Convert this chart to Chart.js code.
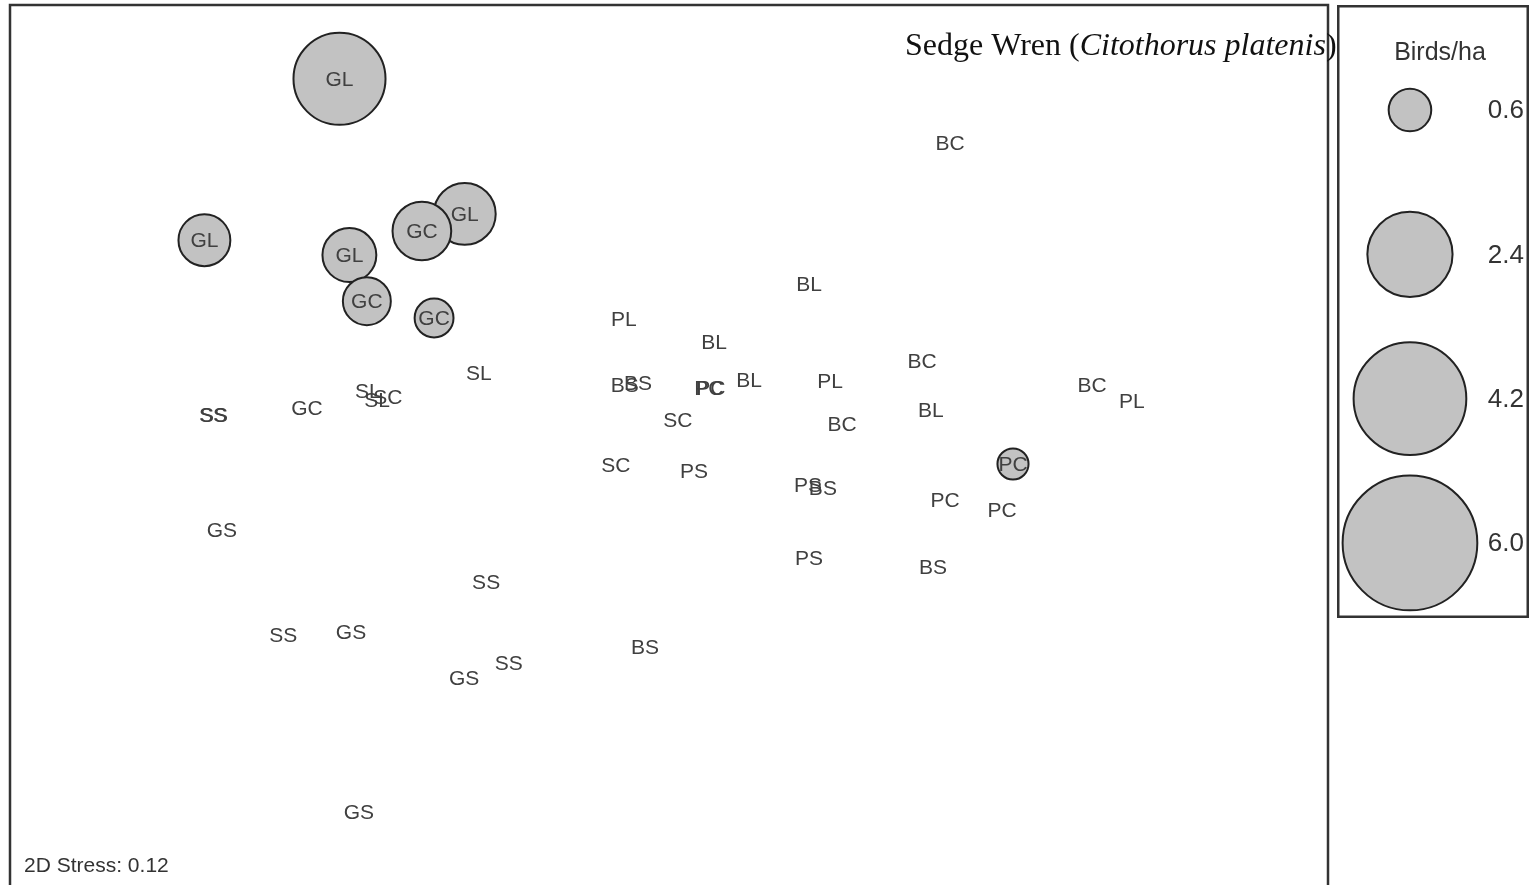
<!DOCTYPE html>
<html>
<head>
<meta charset="utf-8">
<title>Sedge Wren MDS bubble plot</title>
<script src="https://cdn.jsdelivr.net/npm/chart.js@4.4.1/dist/chart.umd.min.js"></script>
<style>
  html, body { margin: 0; padding: 0; background: #fff; }
  #wrap { position: relative; width: 1531px; height: 885px; overflow: hidden; }
  #plot { position: absolute; left: 0; top: 0; }
  #legend { position: absolute; left: 1337px; top: 5px; }
</style>
</head>
<body>
<div id="wrap">
  <canvas id="plot" width="1531" height="885"></canvas>
  <canvas id="legend" width="192" height="613"></canvas>
</div>
<script>
// --- data (MDS coordinates, density in birds/ha) ---
const siteLabels = [
  'GL', 'GL', 'GL', 'GL', 'GC', 'GC', 'GC', 'PC',
  'BC', 'BL', 'PL', 'BL', 'SL', 'BC', 'PL', 'BL', 'PC', 'PC',
  'BS', 'BS', 'SC', 'BC', 'BL', 'BC', 'PL', 'SS', 'SS', 'GC',
  'SL', 'SL', 'SC', 'SC', 'PS', 'PS', 'BS', 'PC', 'PC', 'GS',
  'SS', 'PS', 'BS', 'SS', 'GS', 'BS', 'SS', 'GS', 'GS'
];
const mdsX = [
  -1.00, -1.41, -0.62, -0.97, -0.75, -0.917, -0.713, 1.044,
  0.853, 0.425, -0.137, 0.137, -0.577, 0.768, 0.489, 0.243, 0.121, 0.127,
  -0.134, -0.094, 0.027, 0.525, 0.795, 1.284, 1.405, -1.384, -1.381, -1.099,
  -0.914, -0.886, -0.853, -0.161, 0.076, 0.422, 0.467, 0.838, 1.011, -1.357,
  -0.555, 0.425, 0.801, -1.171, -0.965, -0.073, -0.486, -0.622, -0.941
];
const mdsY = [
  1.11, 0.62, 0.70, 0.575, 0.648, 0.435, 0.384, -0.059,
  0.915, 0.487, 0.381, 0.311, 0.217, 0.253, 0.193, 0.196, 0.171, 0.171,
  0.181, 0.187, 0.074, 0.062, 0.105, 0.181, 0.132, 0.090, 0.090, 0.111,
  0.162, 0.135, 0.144, -0.062, -0.080, -0.123, -0.132, -0.168, -0.199, -0.259,
  -0.417, -0.344, -0.372, -0.578, -0.569, -0.615, -0.663, -0.709, -1.115
];
const density = [
  2.80, 0.89, 1.27, 0.96, 1.14, 0.76, 0.50, 0.32,
  0, 0, 0, 0, 0, 0, 0, 0, 0, 0,
  0, 0, 0, 0, 0, 0, 0, 0, 0, 0,
  0, 0, 0, 0, 0, 0, 0, 0, 0, 0,
  0, 0, 0, 0, 0, 0, 0, 0, 0
];
const legendValues = [0.6, 2.4, 4.2, 6.0];
const stressText = '2D Stress: 0.12';

// bubble radius proportional to sqrt(density), same scale for plot and key
const radiusFor = v => (v > 0 ? 27.5 * Math.sqrt(v) : 0);

const BUBBLE_FILL = '#c2c2c2';
const BUBBLE_EDGE = '#222';
const TEXT_GREY = '#404040';
const SANS = '"Liberation Sans", Arial, sans-serif';
const SERIF = '"Liberation Serif", "Times New Roman", serif';

const plotPoints = siteLabels.map((lab, i) => ({ x: mdsX[i], y: mdsY[i], r: radiusFor(density[i]) }));

// labels, frame, stress and title for the main plot
const plotDecor = {
  id: 'plotDecor',
  afterDatasetsDraw(chart) {
    const { ctx, chartArea: a, scales } = chart;
    ctx.save();
    ctx.font = '21px ' + SANS;
    ctx.fillStyle = TEXT_GREY;
    ctx.textAlign = 'center';
    ctx.textBaseline = 'middle';
    siteLabels.forEach((lab, i) => {
      ctx.fillText(lab, scales.x.getPixelForValue(mdsX[i]), scales.y.getPixelForValue(mdsY[i]) + 1);
    });

    // frame
    ctx.strokeStyle = '#333';
    ctx.lineWidth = 2.5;
    ctx.strokeRect(a.left, a.top, a.right - a.left, a.bottom - a.top + 4);

    ctx.textAlign = 'left';
    ctx.font = '21px ' + SANS;
    ctx.fillStyle = '#333';
    ctx.fillText(stressText, 24, 866);

    // title: common name roman, scientific name italic
    ctx.fillStyle = '#111';
    ctx.textBaseline = 'alphabetic';
    let x = 905;
    const y = 55;
    const parts = [
      ['Sedge Wren (', '32px ' + SERIF],
      ['Citothorus platenis', 'italic 32px ' + SERIF],
      [')', '32px ' + SERIF],
    ];
    parts.forEach(([t, f]) => {
      ctx.font = f;
      ctx.fillText(t, x, y);
      x += ctx.measureText(t).width;
    });
    ctx.restore();
  }
};

new Chart(document.getElementById('plot'), {
  type: 'bubble',
  data: {
    datasets: [{
      data: plotPoints,
      backgroundColor: BUBBLE_FILL,
      borderColor: BUBBLE_EDGE,
      borderWidth: 2,
      hoverRadius: 0,
      clip: false,
    }],
  },
  options: {
    responsive: false,
    animation: false,
    events: [],
    layout: { autoPadding: false, padding: { left: 10, top: 5, right: 203, bottom: 1 } },
    plugins: { legend: { display: false }, tooltip: { enabled: false } },
    scales: {
      x: { type: 'linear', min: -2, max: 2, display: false },
      y: { type: 'linear', min: -1.334, max: 1.334, display: false },
    },
  },
  plugins: [plotDecor],
});

// --- key: Birds/ha ---
const legendDecor = {
  id: 'legendDecor',
  afterDatasetsDraw(chart) {
    const { ctx, scales } = chart;
    ctx.save();
    ctx.strokeStyle = '#333';
    ctx.lineWidth = 2.5;
    ctx.strokeRect(1.25, 1.25, chart.width - 2.5, chart.height - 2.5);

    ctx.fillStyle = '#333';
    ctx.textBaseline = 'middle';
    ctx.textAlign = 'center';
    ctx.font = '25px ' + SANS;
    ctx.fillText('Birds/ha', 103, 48);

    ctx.textAlign = 'right';
    ctx.font = '26px ' + SANS;
    legendValues.forEach((v, i) => {
      ctx.fillText(v.toFixed(1), 187, scales.y.getPixelForValue(i) + 1);
    });
    ctx.restore();
  }
};

new Chart(document.getElementById('legend'), {
  type: 'bubble',
  data: {
    datasets: [{
      data: legendValues.map((v, i) => ({ x: 0.38, y: i, r: radiusFor(v) })),
      backgroundColor: BUBBLE_FILL,
      borderColor: BUBBLE_EDGE,
      borderWidth: 2,
      hoverRadius: 0,
      clip: false,
    }],
  },
  options: {
    responsive: false,
    animation: false,
    events: [],
    layout: { autoPadding: false, padding: 0 },
    plugins: { legend: { display: false }, tooltip: { enabled: false } },
    scales: {
      x: { type: 'linear', min: 0, max: 1, display: false },
      y: { type: 'linear', min: -0.728, max: 3.52, reverse: true, display: false },
    },
  },
  plugins: [legendDecor],
});
</script>
</body>
</html>
